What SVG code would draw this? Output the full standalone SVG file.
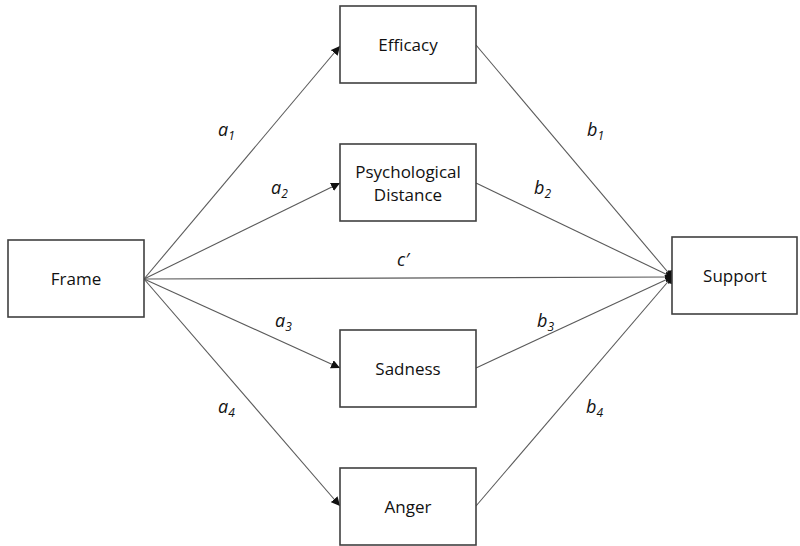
<svg xmlns="http://www.w3.org/2000/svg" width="800" height="546" viewBox="0 0 800 546">
<style>
.box{fill:#fff;stroke:#404040;stroke-width:1.6}
.lbl{font-family:"Open Sans","Liberation Sans",sans-serif;font-size:17px;fill:#111;text-anchor:middle}
.co{font-family:"Open Sans","Liberation Sans",sans-serif;font-size:18px;font-style:italic;fill:#111}
.sub{font-size:12px}
.ln{stroke:#5a5a5a;stroke-width:1.1;fill:none}
</style>
<defs>
<marker id="ah" viewBox="0 0 10 10" refX="10" refY="5" markerWidth="9" markerHeight="9" markerUnits="userSpaceOnUse" orient="auto">
<path d="M0,0 L10,5 L0,10 z" fill="#111"/>
</marker>
<marker id="dot" viewBox="0 0 10 10" refX="6" refY="5" markerWidth="10" markerHeight="10" markerUnits="userSpaceOnUse" orient="auto">
<path d="M0,0 L6,1.5 A4,4 0 0 1 6,8.5 L0,10 z" fill="#111"/>
</marker>
</defs>
<rect width="800" height="546" fill="#fff"/>
<g id="connectors">
<line class="ln" x1="144" y1="279" x2="340" y2="46" marker-end="url(#ah)"/>
<line class="ln" x1="144" y1="279" x2="340" y2="183" marker-end="url(#ah)"/>
<line class="ln" x1="144" y1="279" x2="340" y2="368" marker-end="url(#ah)"/>
<line class="ln" x1="144" y1="279" x2="340" y2="506" marker-end="url(#ah)"/>
<line class="ln" x1="144" y1="279" x2="672" y2="277" marker-end="url(#dot)"/>
<line class="ln" x1="476" y1="45" x2="672" y2="277" marker-end="url(#dot)"/>
<line class="ln" x1="476" y1="183" x2="672" y2="277" marker-end="url(#dot)"/>
<line class="ln" x1="476" y1="368" x2="672" y2="277" marker-end="url(#dot)"/>
<line class="ln" x1="476" y1="506" x2="672" y2="277" marker-end="url(#dot)"/>
</g>
<g id="labels">
<text class="co" x="218" y="136">a<tspan class="sub" dy="4">1</tspan></text>
<text class="co" x="271" y="194">a<tspan class="sub" dy="4">2</tspan></text>
<text class="co" x="397" y="266">c′</text>
<text class="co" x="275" y="327">a<tspan class="sub" dy="4">3</tspan></text>
<text class="co" x="218" y="413">a<tspan class="sub" dy="4">4</tspan></text>
<text class="co" x="587" y="136">b<tspan class="sub" dy="4">1</tspan></text>
<text class="co" x="534" y="194">b<tspan class="sub" dy="4">2</tspan></text>
<text class="co" x="537" y="327">b<tspan class="sub" dy="4">3</tspan></text>
<text class="co" x="586" y="413">b<tspan class="sub" dy="4">4</tspan></text>
</g>
<g id="frame"><rect class="box" x="8" y="240" width="136" height="77"/><text class="lbl" x="76" y="285">Frame</text></g>
<g id="efficacy"><rect class="box" x="340" y="6" width="136" height="77"/><text class="lbl" x="408" y="51">Efficacy</text></g>
<g id="psych"><rect class="box" x="340" y="144" width="136" height="77"/><text class="lbl" x="408" y="178">Psychological</text><text class="lbl" x="408" y="201">Distance</text></g>
<g id="sadness"><rect class="box" x="340" y="330" width="136" height="77"/><text class="lbl" x="408" y="375">Sadness</text></g>
<g id="anger"><rect class="box" x="340" y="468" width="136" height="77"/><text class="lbl" x="408" y="513">Anger</text></g>
<g id="support"><rect class="box" x="672" y="237" width="125" height="77"/><text class="lbl" x="735" y="282">Support</text></g>
</svg>
